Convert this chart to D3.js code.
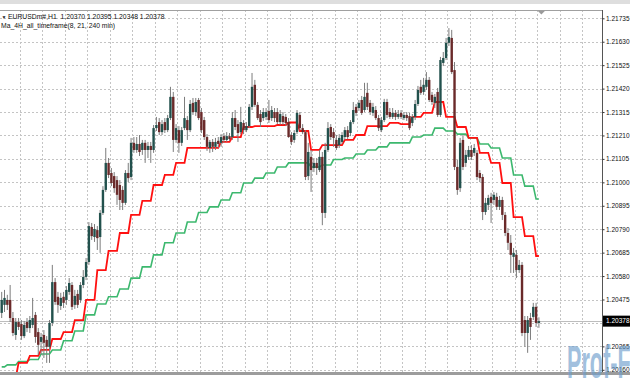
<!DOCTYPE html>
<html>
<head>
<meta charset="utf-8">
<script src="https://cdn.jsdelivr.net/npm/d3@7"></script>
<style>
    body { margin: 0; background: #fff; }
    svg { display: block; font-family: "Liberation Sans", Arial, sans-serif; }
</style>
</head>
<body>
<svg id="chart" width="630" height="380"></svg>
<script>
const symbol = 'EURUSDm#,H1';
const indicatorName = 'Ma_4H_all_timeframe(8, 21, 240 min)';
const watermark = 'Prof-FX';
const lastQuote = [1.20370, 1.20395, 1.20348, 1.20378];

// H1 bars, oldest first
const opens = [
    1.20415, 1.20451, 1.20473, 1.20473, 1.20392, 1.20316, 1.20374, 1.20365, 1.20311, 1.20374,
    1.20347, 1.20361, 1.20406, 1.20329, 1.20285, 1.20316, 1.20294, 1.20263, 1.20370, 1.20553,
    1.20487, 1.20446, 1.20487, 1.20473, 1.20509, 1.20540, 1.20451, 1.20500, 1.20473, 1.20540,
    1.20576, 1.20643, 1.20800, 1.20755, 1.20786, 1.20755, 1.20863, 1.20966, 1.21087, 1.21042,
    1.21028, 1.21010, 1.20988, 1.20966, 1.20908, 1.21042, 1.21024, 1.21177, 1.21145, 1.21172,
    1.21145, 1.21177, 1.21145, 1.21163, 1.21145, 1.21243, 1.21270, 1.21225, 1.21270, 1.21234,
    1.21288, 1.21383, 1.21190, 1.21234, 1.21177, 1.21243, 1.21279, 1.21234, 1.21356, 1.21315,
    1.21369, 1.21315, 1.21279, 1.21203, 1.21154, 1.21181, 1.21159, 1.21186, 1.21177, 1.21207,
    1.21190, 1.21207, 1.21203, 1.21288, 1.21261, 1.21225, 1.21266, 1.21234, 1.21252, 1.21338,
    1.21437, 1.21347, 1.21306, 1.21288, 1.21293, 1.21320, 1.21288, 1.21315, 1.21315, 1.21270,
    1.21297, 1.21293, 1.21270, 1.21212, 1.21190, 1.21225, 1.21302, 1.21243, 1.21225, 1.21028,
    1.21114, 1.21064, 1.21087, 1.21055, 1.21114, 1.20863, 1.21145, 1.21248, 1.21225, 1.21190,
    1.21167, 1.21181, 1.21203, 1.21234, 1.21221, 1.21270, 1.21338, 1.21333, 1.21369, 1.21324,
    1.21401, 1.21356, 1.21311, 1.21324, 1.21288, 1.21234, 1.21279, 1.21360, 1.21315, 1.21293,
    1.21311, 1.21293, 1.21311, 1.21288, 1.21302, 1.21297, 1.21266, 1.21293, 1.21351, 1.21428,
    1.21405, 1.21428, 1.21459, 1.21392, 1.21356, 1.21405, 1.21302, 1.21535, 1.21557, 1.21625,
    1.21647, 1.21503, 1.21069, 1.20974, 1.21190, 1.21087, 1.21114, 1.21145, 1.21132, 1.21132,
    1.21042, 1.21024, 1.20867, 1.20899, 1.20935, 1.20921, 1.20935, 1.20890, 1.20921, 1.20854,
    1.20773, 1.20729, 1.20666, 1.20675, 1.20607, 1.20630, 1.20383, 1.20325, 1.20392, 1.20397,
    1.20442, 1.20370
];
const highs = [
    1.20509, 1.20518, 1.20496, 1.20540, 1.20419, 1.20392, 1.20392, 1.20383, 1.20379, 1.20392,
    1.20401, 1.20482, 1.20419, 1.20347, 1.20325, 1.20338, 1.20311, 1.20383, 1.20630, 1.20571,
    1.20509, 1.20505, 1.20509, 1.20535, 1.20571, 1.20553, 1.20518, 1.20518, 1.20553, 1.20607,
    1.20661, 1.20822, 1.20818, 1.20813, 1.20804, 1.20876, 1.20983, 1.21154, 1.21109, 1.21064,
    1.21046, 1.21028, 1.21010, 1.20983, 1.21055, 1.21087, 1.21199, 1.21203, 1.21203, 1.21212,
    1.21190, 1.21190, 1.21181, 1.21181, 1.21257, 1.21293, 1.21288, 1.21279, 1.21288, 1.21302,
    1.21428, 1.21405, 1.21261, 1.21252, 1.21248, 1.21383, 1.21297, 1.21369, 1.21378, 1.21378,
    1.21378, 1.21333, 1.21293, 1.21216, 1.21190, 1.21194, 1.21199, 1.21203, 1.21216, 1.21221,
    1.21225, 1.21221, 1.21315, 1.21324, 1.21279, 1.21338, 1.21279, 1.21270, 1.21351, 1.21490,
    1.21459, 1.21360, 1.21324, 1.21333, 1.21333, 1.21369, 1.21342, 1.21333, 1.21333, 1.21324,
    1.21315, 1.21306, 1.21288, 1.21225, 1.21234, 1.21324, 1.21315, 1.21261, 1.21234, 1.21177,
    1.21145, 1.21109, 1.21109, 1.21145, 1.21136, 1.21177, 1.21270, 1.21261, 1.21243, 1.21212,
    1.21216, 1.21225, 1.21248, 1.21252, 1.21279, 1.21360, 1.21351, 1.21369, 1.21387, 1.21446,
    1.21446, 1.21369, 1.21356, 1.21342, 1.21302, 1.21293, 1.21374, 1.21374, 1.21333, 1.21333,
    1.21324, 1.21324, 1.21324, 1.21315, 1.21315, 1.21311, 1.21306, 1.21369, 1.21432, 1.21459,
    1.21468, 1.21494, 1.21472, 1.21405, 1.21396, 1.21423, 1.21562, 1.21584, 1.21647, 1.21691,
    1.21683, 1.21539, 1.21100, 1.21199, 1.21212, 1.21145, 1.21163, 1.21167, 1.21172, 1.21145,
    1.21055, 1.21037, 1.20930, 1.20944, 1.20953, 1.20957, 1.20953, 1.20939, 1.20935, 1.20867,
    1.20795, 1.20764, 1.20706, 1.20697, 1.20652, 1.20643, 1.20401, 1.20401, 1.20415, 1.20460,
    1.20460, 1.20395
];
const lows = [
    1.20392, 1.20419, 1.20428, 1.20374, 1.20311, 1.20294, 1.20338, 1.20294, 1.20302, 1.20329,
    1.20325, 1.20347, 1.20281, 1.20227, 1.20227, 1.20213, 1.20191, 1.20191, 1.20356, 1.20451,
    1.20415, 1.20428, 1.20437, 1.20451, 1.20496, 1.20428, 1.20433, 1.20437, 1.20460, 1.20526,
    1.20562, 1.20630, 1.20742, 1.20733, 1.20697, 1.20684, 1.20854, 1.20957, 1.21019, 1.20983,
    1.20953, 1.20899, 1.20876, 1.20876, 1.20899, 1.21001, 1.21010, 1.21132, 1.21132, 1.21118,
    1.21123, 1.21087, 1.21109, 1.21087, 1.21132, 1.21230, 1.21212, 1.21212, 1.21221, 1.21225,
    1.21279, 1.21136, 1.21177, 1.21132, 1.21163, 1.21234, 1.21190, 1.21225, 1.21302, 1.21297,
    1.21279, 1.21221, 1.21190, 1.21141, 1.21132, 1.21136, 1.21145, 1.21154, 1.21159, 1.21177,
    1.21181, 1.21186, 1.21190, 1.21234, 1.21181, 1.21216, 1.21216, 1.21225, 1.21243, 1.21324,
    1.21338, 1.21279, 1.21248, 1.21275, 1.21279, 1.21266, 1.21275, 1.21270, 1.21261, 1.21257,
    1.21257, 1.21252, 1.21199, 1.21167, 1.21177, 1.21216, 1.21234, 1.21216, 1.21010, 1.21010,
    1.20957, 1.21046, 1.21033, 1.21046, 1.20808, 1.20840, 1.21136, 1.21190, 1.21159, 1.21145,
    1.21154, 1.21172, 1.21190, 1.21194, 1.21207, 1.21261, 1.21297, 1.21320, 1.21302, 1.21315,
    1.21324, 1.21302, 1.21297, 1.21279, 1.21230, 1.21225, 1.21270, 1.21288, 1.21284, 1.21284,
    1.21279, 1.21284, 1.21284, 1.21279, 1.21275, 1.21234, 1.21252, 1.21279, 1.21342, 1.21392,
    1.21392, 1.21414, 1.21360, 1.21347, 1.21333, 1.21293, 1.21293, 1.21521, 1.21548, 1.21611,
    1.21485, 1.21055, 1.20944, 1.20957, 1.21055, 1.21069, 1.21100, 1.21100, 1.21118, 1.21010,
    1.21001, 1.20831, 1.20854, 1.20876, 1.20818, 1.20899, 1.20876, 1.20876, 1.20831, 1.20759,
    1.20697, 1.20594, 1.20594, 1.20571, 1.20594, 1.20311, 1.20263, 1.20236, 1.20294, 1.20383,
    1.20352, 1.20348
];
const closes = [
    1.20473, 1.20482, 1.20451, 1.20392, 1.20325, 1.20374, 1.20352, 1.20311, 1.20361, 1.20347,
    1.20383, 1.20392, 1.20307, 1.20272, 1.20307, 1.20281, 1.20263, 1.20370, 1.20553, 1.20464,
    1.20451, 1.20482, 1.20460, 1.20518, 1.20549, 1.20442, 1.20491, 1.20451, 1.20540, 1.20576,
    1.20643, 1.20804, 1.20759, 1.20791, 1.20750, 1.20863, 1.20966, 1.21087, 1.21033, 1.20997,
    1.20974, 1.20944, 1.20921, 1.20908, 1.21042, 1.21019, 1.21177, 1.21145, 1.21172, 1.21136,
    1.21177, 1.21145, 1.21163, 1.21145, 1.21243, 1.21257, 1.21225, 1.21261, 1.21234, 1.21288,
    1.21383, 1.21190, 1.21243, 1.21177, 1.21234, 1.21288, 1.21234, 1.21351, 1.21315, 1.21360,
    1.21288, 1.21234, 1.21203, 1.21159, 1.21181, 1.21159, 1.21181, 1.21172, 1.21203, 1.21190,
    1.21207, 1.21194, 1.21288, 1.21248, 1.21221, 1.21270, 1.21234, 1.21252, 1.21338, 1.21428,
    1.21347, 1.21288, 1.21270, 1.21315, 1.21315, 1.21279, 1.21324, 1.21288, 1.21270, 1.21306,
    1.21270, 1.21266, 1.21203, 1.21181, 1.21221, 1.21311, 1.21243, 1.21225, 1.21024, 1.21136,
    1.21055, 1.21087, 1.21064, 1.21114, 1.20863, 1.21145, 1.21243, 1.21203, 1.21199, 1.21154,
    1.21199, 1.21212, 1.21234, 1.21203, 1.21270, 1.21324, 1.21311, 1.21356, 1.21311, 1.21383,
    1.21338, 1.21315, 1.21338, 1.21288, 1.21243, 1.21279, 1.21360, 1.21302, 1.21293, 1.21311,
    1.21293, 1.21306, 1.21293, 1.21302, 1.21288, 1.21243, 1.21293, 1.21351, 1.21414, 1.21401,
    1.21437, 1.21459, 1.21369, 1.21360, 1.21383, 1.21302, 1.21548, 1.21557, 1.21625, 1.21651,
    1.21494, 1.21069, 1.20966, 1.21177, 1.21069, 1.21123, 1.21145, 1.21114, 1.21154, 1.21024,
    1.21019, 1.20867, 1.20908, 1.20930, 1.20908, 1.20944, 1.20890, 1.20921, 1.20854, 1.20773,
    1.20729, 1.20675, 1.20684, 1.20607, 1.20630, 1.20325, 1.20325, 1.20383, 1.20352, 1.20442,
    1.20370, 1.20378
];

// 4H moving averages, one value per 4H block (first block holds 2 H1 bars)
const barsPerBlock = 4;
const blockShift = 2;
const maFast = [
    1.20047, 1.20123, 1.20191, 1.20222, 1.20249, 1.20298, 1.20329, 1.20383, 1.20473, 1.20607,
    1.20693, 1.20773, 1.20854, 1.20917, 1.20988, 1.21033, 1.21087, 1.21154, 1.21154, 1.21154,
    1.21181, 1.21203, 1.21248, 1.21252, 1.21252, 1.21257, 1.21268, 1.21230, 1.21145, 1.21167,
    1.21167, 1.21190, 1.21212, 1.21252, 1.21252, 1.21266, 1.21261, 1.21293, 1.21311, 1.21360,
    1.21293, 1.21248, 1.21199, 1.21132, 1.21087, 1.20997, 1.20844, 1.20759, 1.20670
];
const maSlow = [
    1.20173, 1.20182, 1.20197, 1.20206, 1.20231, 1.20249, 1.20290, 1.20334, 1.20406, 1.20455,
    1.20487, 1.20522, 1.20571, 1.20621, 1.20675, 1.20729, 1.20773, 1.20822, 1.20865, 1.20890,
    1.20921, 1.20953, 1.20997, 1.21019, 1.21042, 1.21069, 1.21087, 1.21087, 1.21069, 1.21078,
    1.21102, 1.21109, 1.21127, 1.21145, 1.21159, 1.21177, 1.21177, 1.21203, 1.21212, 1.21243,
    1.21230, 1.21216, 1.21199, 1.21172, 1.21154, 1.21109, 1.21033, 1.20983, 1.20925
];

const priceTicks = [
    1.21735, 1.21630, 1.21525, 1.21420, 1.21315, 1.21210, 1.21105, 1.21000,
    1.20895, 1.20790, 1.20685, 1.20580, 1.20475, 1.20370, 1.20265, 1.20160
];
const gridEveryBars = 8;

const width = 630,
    height = 380,
    plotTop = 10,
    plotBottom = 372,
    plotRight = 602;

const svg = d3.select('#chart');

const x = d3.scaleLinear()
    .domain([0, closes.length - 1])
    .range([1.7, 538.9]);

const y = d3.scaleLinear()
    .domain([priceTicks[0], priceTicks[priceTicks.length - 1]])
    .range([18.3, 369.8]);

const crisp = v => Math.round(v) + 0.5;
const fmt = d3.format('.5f');

svg.append('defs')
    .append('clipPath')
    .attr('id', 'plot-clip')
    .append('rect')
    .attr('x', 0)
    .attr('y', plotTop)
    .attr('width', plotRight)
    .attr('height', plotBottom - plotTop);

// window strip on top
svg.append('rect')
    .attr('x', 0).attr('y', 0)
    .attr('width', width).attr('height', 4)
    .attr('fill', '#dedede');

const plot = svg.append('g').attr('clip-path', 'url(#plot-clip)');

// grid
let gridBars = [];
for (let b = 6.5; x(b) < plotRight; b += gridEveryBars) {
    gridBars.push(b);
}

plot.selectAll('.grid-v')
    .data(gridBars)
    .enter()
    .append('line')
    .attr('class', 'grid-v')
    .attr('x1', d => crisp(x(d)))
    .attr('x2', d => crisp(x(d)))
    .attr('y1', plotTop)
    .attr('y2', plotBottom)
    .attr('stroke', '#c4c4c4')
    .attr('stroke-dasharray', '2,2');

plot.selectAll('.grid-h')
    .data(priceTicks)
    .enter()
    .append('line')
    .attr('class', 'grid-h')
    .attr('x1', 0)
    .attr('x2', plotRight)
    .attr('y1', d => crisp(y(d)))
    .attr('y2', d => crisp(y(d)))
    .attr('stroke', '#c4c4c4')
    .attr('stroke-dasharray', '2,2');

// bid line
const lastClose = closes[closes.length - 1];
plot.append('line')
    .attr('x1', 0)
    .attr('x2', plotRight)
    .attr('y1', crisp(y(lastClose)))
    .attr('y2', crisp(y(lastClose)))
    .attr('stroke', '#bdbdbd');

// moving averages: block value held over its H1 bars
function expandBlocks(values) {
    return closes.map((c, i) => values[Math.floor((i + blockShift) / barsPerBlock)]);
}

const line = d3.line()
    .x((d, i) => x(i))
    .y(d => y(d));

plot.append('path')
    .datum(expandBlocks(maSlow))
    .attr('d', line)
    .attr('fill', 'none')
    .attr('stroke', '#3cb86e')
    .attr('stroke-width', 1.6);

plot.append('path')
    .datum(expandBlocks(maFast))
    .attr('d', line)
    .attr('fill', 'none')
    .attr('stroke', '#ff1010')
    .attr('stroke-width', 1.8);

// candles
const bars = closes.map((c, i) => ({
    i: i,
    o: opens[i],
    h: highs[i],
    l: lows[i],
    c: c
}));

const candle = plot.selectAll('.candle')
    .data(bars)
    .enter()
    .append('g')
    .attr('class', 'candle');

candle.append('line')
    .attr('x1', d => x(d.i))
    .attr('x2', d => x(d.i))
    .attr('y1', d => y(d.h))
    .attr('y2', d => y(d.l))
    .attr('stroke', '#7c7c7c')
    .attr('stroke-width', 1);

candle.append('rect')
    .attr('x', d => x(d.i) - 1.2)
    .attr('width', 2.4)
    .attr('y', d => y(Math.max(d.o, d.c)))
    .attr('height', d => Math.max(0.8, Math.abs(y(d.o) - y(d.c))))
    .attr('fill', d => d.c >= d.o ? '#22514d' : '#6a2a2a');

// frame
svg.append('line')
    .attr('x1', 0).attr('x2', plotRight + 0.5)
    .attr('y1', plotTop + 0.5).attr('y2', plotTop + 0.5)
    .attr('stroke', '#a0a0a0');

svg.append('line')
    .attr('x1', plotRight + 0.5).attr('x2', plotRight + 0.5)
    .attr('y1', plotTop).attr('y2', plotBottom)
    .attr('stroke', '#555');

// chart shift marker
svg.append('path')
    .attr('d', `M${x(closes.length - 1) - 1},${plotTop + 1} l7,0 l-3.5,3.5 z`)
    .attr('fill', '#9a9a9a');

// price axis
const axis = d3.axisRight(y)
    .tickValues(priceTicks.filter(t => Math.abs(y(t) - y(lastClose)) > 8))
    .tickSize(2)
    .tickSizeOuter(0)
    .tickPadding(1.5)
    .tickFormat(fmt);

const axisG = svg.append('g')
    .attr('transform', `translate(${plotRight + 0.5},0)`)
    .call(axis);

axisG.select('.domain').remove();
axisG.selectAll('.tick line').attr('stroke', '#333');
axisG.selectAll('.tick text')
    .attr('fill', '#111')
    .style('font-size', '6.5px');

// bid label
const bidG = svg.append('g')
    .attr('transform', `translate(${plotRight + 1},${y(lastClose)})`);

bidG.append('rect')
    .attr('x', 0).attr('y', -5.5)
    .attr('width', width - plotRight).attr('height', 11)
    .attr('fill', '#000');

bidG.append('text')
    .attr('x', 3).attr('y', 2.3)
    .attr('fill', '#fff')
    .style('font-size', '6.5px')
    .text(fmt(lastClose));

// bottom bar
svg.append('rect')
    .attr('x', 0).attr('y', plotBottom)
    .attr('width', width).attr('height', 3)
    .attr('fill', '#9c9c9c');

// header texts
svg.append('text')
    .attr('x', 1.5).attr('y', 18.5)
    .style('font-size', '5px')
    .attr('fill', '#222')
    .text('▼');

svg.append('text')
    .attr('x', 8).attr('y', 18.5)
    .style('font-size', '6.8px')
    .style('white-space', 'pre')
    .attr('fill', '#111')
    .text(symbol + '  ' + lastQuote.map(fmt).join(' '));

svg.append('text')
    .attr('x', 1).attr('y', 28)
    .style('font-size', '6.8px')
    .attr('fill', '#111')
    .text(indicatorName);

// watermark
svg.append('text')
    .attr('x', 567).attr('y', 378)
    .attr('textLength', 78)
    .attr('lengthAdjust', 'spacingAndGlyphs')
    .style('font-size', '46px')
    .style('font-weight', 'bold')
    .attr('fill', '#6f9fcd')
    .attr('opacity', 0.65)
    .text(watermark);
</script>
</body>
</html>
